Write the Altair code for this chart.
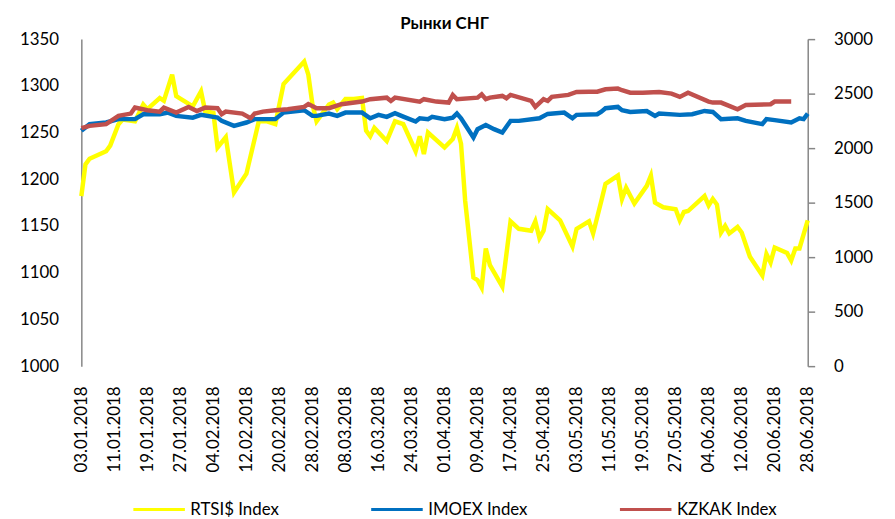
import altair as alt
import pandas as pd

# ---- data ----
rts_dates = ["2018-01-03","2018-01-04","2018-01-05","2018-01-09","2018-01-10","2018-01-12","2018-01-13",
    "2018-01-16","2018-01-18","2018-01-19","2018-01-22","2018-01-23","2018-01-25","2018-01-26","2018-01-30",
    "2018-02-01","2018-02-02","2018-02-04","2018-02-05","2018-02-07","2018-02-09","2018-02-12","2018-02-15",
    "2018-02-17","2018-02-19","2018-02-21","2018-02-26","2018-02-27","2018-02-28","2018-03-01","2018-03-04",
    "2018-03-05","2018-03-06","2018-03-08","2018-03-10","2018-03-12","2018-03-13","2018-03-14","2018-03-15",
    "2018-03-18","2018-03-20","2018-03-22","2018-03-25","2018-03-26","2018-03-27","2018-03-28","2018-04-01",
    "2018-04-03","2018-04-04","2018-04-05","2018-04-06","2018-04-08","2018-04-09","2018-04-10","2018-04-11",
    "2018-04-12","2018-04-15","2018-04-17","2018-04-19","2018-04-22","2018-04-23","2018-04-24","2018-04-25",
    "2018-04-26","2018-04-29","2018-05-02","2018-05-03","2018-05-06","2018-05-07","2018-05-09","2018-05-10",
    "2018-05-13","2018-05-14","2018-05-15","2018-05-17","2018-05-20","2018-05-21","2018-05-22","2018-05-24",
    "2018-05-27","2018-05-28","2018-05-29","2018-05-30","2018-06-03","2018-06-04","2018-06-05","2018-06-06",
    "2018-06-07","2018-06-08","2018-06-09","2018-06-11","2018-06-12","2018-06-14","2018-06-17","2018-06-18",
    "2018-06-19","2018-06-20","2018-06-23","2018-06-24","2018-06-25","2018-06-26","2018-06-28"]
rts_values = [1182,1216,1222,1230,1236,1259,1264,
    1262,1280,1275,1287,1284,1312,1289,1278,
    1294,1273,1271,1234,1245,1186,1206,1262,
    1262,1259,1302,1326,1312,1280,1262,1280,
    1282,1275,1286,1286,1287,1252,1246,1255,
    1241,1262,1259,1230,1246,1227,1250,1234,
    1243,1255,1238,1177,1095,1092,1084,1126,
    1108,1085,1155,1147,1145,1155,1137,1145,
    1168,1156,1128,1147,1155,1142,1177,1195,
    1204,1179,1191,1174,1193,1204,1175,1170,
    1168,1156,1165,1166,1182,1172,1179,1173,
    1143,1150,1142,1149,1143,1117,1097,1120,
    1111,1127,1121,1113,1126,1126,1156]

imoex_dates = ["2018-01-03","2018-01-05","2018-01-09","2018-01-12","2018-01-16","2018-01-18","2018-01-22",
    "2018-01-24","2018-01-26","2018-01-30","2018-02-01","2018-02-05","2018-02-06","2018-02-09","2018-02-12",
    "2018-02-14","2018-02-19","2018-02-21","2018-02-26","2018-02-28","2018-03-01","2018-03-04","2018-03-06",
    "2018-03-08","2018-03-12","2018-03-14","2018-03-16","2018-03-18","2018-03-20","2018-03-22","2018-03-25",
    "2018-03-26","2018-03-28","2018-03-29","2018-04-01","2018-04-03","2018-04-04","2018-04-05","2018-04-08",
    "2018-04-09","2018-04-11","2018-04-13","2018-04-15","2018-04-17","2018-04-19","2018-04-24","2018-04-26",
    "2018-04-30","2018-05-02","2018-05-03","2018-05-08","2018-05-09","2018-05-10","2018-05-13","2018-05-14",
    "2018-05-16","2018-05-20","2018-05-22","2018-05-23","2018-05-28","2018-05-31","2018-06-03","2018-06-05",
    "2018-06-07","2018-06-11","2018-06-13","2018-06-17","2018-06-18","2018-06-20","2018-06-24","2018-06-26",
    "2018-06-27","2018-06-28"]
imoex_values = [2160,2220,2235,2266,2266,2311,2311,
    2326,2296,2280,2305,2280,2250,2204,2235,
    2266,2266,2326,2348,2296,2296,2317,2296,
    2326,2326,2274,2305,2287,2320,2289,2244,
    2274,2266,2287,2266,2280,2317,2274,2097,
    2174,2213,2174,2143,2250,2250,2274,2314,
    2326,2274,2305,2311,2335,2366,2378,2348,
    2332,2341,2296,2317,2305,2311,2341,2332,
    2266,2274,2250,2220,2266,2257,2235,2274,
    2266,2317]

kzkak_dates = ["2018-01-03","2018-01-05","2018-01-09","2018-01-12","2018-01-15","2018-01-16","2018-01-19",
    "2018-01-22","2018-01-23","2018-01-26","2018-01-29","2018-01-31","2018-02-02","2018-02-05","2018-02-06",
    "2018-02-07","2018-02-11","2018-02-13","2018-02-14","2018-02-16","2018-02-19","2018-02-22","2018-02-26",
    "2018-02-27","2018-03-01","2018-03-04","2018-03-07","2018-03-12","2018-03-14","2018-03-18","2018-03-19",
    "2018-03-20","2018-03-26","2018-03-27","2018-03-30","2018-04-02","2018-04-03","2018-04-04","2018-04-09",
    "2018-04-10","2018-04-11","2018-04-12","2018-04-15","2018-04-16","2018-04-17","2018-04-22","2018-04-23",
    "2018-04-25","2018-04-26","2018-04-27","2018-05-01","2018-05-03","2018-05-06","2018-05-08","2018-05-10",
    "2018-05-13","2018-05-14","2018-05-16","2018-05-19","2018-05-23","2018-05-26","2018-05-28","2018-05-30",
    "2018-06-04","2018-06-05","2018-06-07","2018-06-11","2018-06-13","2018-06-19","2018-06-20","2018-06-24"]
kzkak_values = [2183,2204,2220,2296,2317,2372,2348,
    2335,2372,2326,2378,2341,2372,2366,2311,
    2335,2317,2274,2317,2335,2348,2357,2378,
    2405,2366,2366,2403,2427,2449,2463,2433,
    2463,2427,2449,2427,2418,2488,2449,2463,
    2494,2449,2463,2479,2458,2488,2433,2378,
    2449,2433,2470,2488,2515,2518,2518,2540,
    2546,2531,2509,2509,2515,2500,2470,2509,
    2427,2418,2418,2357,2396,2403,2427,2427]

tick_dates = ["2018-01-03","2018-01-11","2018-01-19","2018-01-27","2018-02-04","2018-02-12","2018-02-20",
    "2018-02-28","2018-03-08","2018-03-16","2018-03-24","2018-04-01","2018-04-09","2018-04-17","2018-04-25",
    "2018-05-03","2018-05-11","2018-05-19","2018-05-27","2018-06-04","2018-06-12","2018-06-20","2018-06-28"]

series_names = ["RTSI$ Index", "IMOEX Index", "KZKAK Index"]
series_colors = ["#FFFF00", "#0070C0", "#C0504D"]
left_ticks = [1000, 1050, 1100, 1150, 1200, 1250, 1300, 1350]
right_ticks = [0, 500, 1000, 1500, 2000, 2500, 3000]

FONT = "Lato, Noto Sans, sans-serif"

left_df = pd.DataFrame({"date": rts_dates, "value": rts_values, "series": series_names[0]})
right_df = pd.concat([
    pd.DataFrame({"date": imoex_dates, "value": imoex_values, "series": series_names[1]}),
    pd.DataFrame({"date": kzkak_dates, "value": kzkak_values, "series": series_names[2]}),
])

def ms(d):
    return int(pd.Timestamp(d, tz="UTC").value // 10**6)

x_enc = alt.X("date:T",
    scale=alt.Scale(type="utc", domain=[ms(tick_dates[0]), ms(tick_dates[-1])], nice=False),
    axis=alt.Axis(values=[ms(d) for d in tick_dates],
                  labelExpr="utcFormat(datum.value, '%d.%m.%Y')",
                  labelAngle=270, labelAlign="right", labelBaseline="middle",
                  domain=False, ticks=False, grid=False, labelPadding=20,
                  labelFont=FONT, labelFontSize=17, labelColor="#000000", title=None,
                  labelOverlap=False, labelFlush=False))

color_enc = alt.Color("series:N",
    scale=alt.Scale(domain=series_names, range=series_colors),
    legend=alt.Legend(orient="none", legendX=51, legendY=447, direction="horizontal",
                      title=None, symbolType="stroke", symbolSize=2704, symbolStrokeWidth=3,
                      labelFont=FONT, labelFontSize=17, labelColor="#000000",
                      columnPadding=86, labelOffset=4))

left = alt.Chart(left_df).mark_line(strokeWidth=4.5).encode(
    x=x_enc,
    y=alt.Y("value:Q", scale=alt.Scale(domain=[1000, 1350], nice=False, zero=False),
            axis=alt.Axis(values=left_ticks, format="d", grid=False, ticks=False, domainColor="#868686",
                          domainWidth=1.5, labelPadding=23, labelFont=FONT, labelFontSize=17,
                          labelColor="#000000", title=None)),
    color=color_enc,
    detail="series:N",
)

right = alt.Chart(right_df).mark_line(strokeWidth=4.5).encode(
    x=x_enc,
    y=alt.Y("value:Q", scale=alt.Scale(domain=[0, 3000], nice=False),
            axis=alt.Axis(orient="right", values=right_ticks, format="d", grid=False, ticks=True, tickSize=7,
                          tickColor="#868686", tickWidth=1.5, domainColor="#868686", domainWidth=1.5,
                          labelPadding=19, labelFont=FONT, labelFontSize=17,
                          labelColor="#000000", title=None)),
    color=alt.Color("series:N", scale=alt.Scale(domain=series_names, range=series_colors)),
    detail="series:N",
)

chart = alt.layer(left, right).resolve_scale(y="independent").properties(
    width=733, height=330,
    autosize=alt.AutoSizeParams(type="none"),
    padding={"left": 74, "top": 29, "right": 80, "bottom": 170},
    title=alt.TitleParams("Рынки СНГ", font=FONT, fontSize=17, fontWeight="bold",
                          anchor="middle", offset=0, dy=3, color="#000000"),
).configure_view(stroke=None)

chart.save("out.html", embed_options={"renderer": "svg", "actions": False})
